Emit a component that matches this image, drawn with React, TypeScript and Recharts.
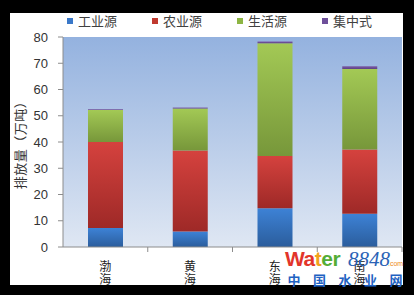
import { BarChart, Bar, XAxis, YAxis, CartesianGrid, Legend, Label } from "recharts"

// emissions by sea area, 万吨
const SEAS = ["渤海", "黄海", "东海", "南海"]
const INDUSTRY = [7.2, 5.9, 14.8, 12.7]
const AGRICULTURE = [32.8, 30.9, 19.9, 24.4]
const DOMESTIC = [12.2, 16.0, 42.9, 30.7]
const CENTRALIZED = [0.3, 0.3, 0.7, 1.1]
const Y_TICKS = [0, 10, 20, 30, 40, 50, 60, 70, 80]

const SERIES = [
  { key: "industry", name: "工业源", top: "#3d82d6", bottom: "#2b5d9c", swatch: "#3a78c8" },
  { key: "agriculture", name: "农业源", top: "#d5423e", bottom: "#9e2927", swatch: "#c0392f" },
  { key: "domestic", name: "生活源", top: "#a3c955", bottom: "#77973a", swatch: "#8db543" },
  { key: "centralized", name: "集中式", top: "#7d5ca8", bottom: "#5d4284", swatch: "#6e4f9a" },
]

const data = SEAS.map((sea, i) => ({
  sea,
  industry: INDUSTRY[i],
  agriculture: AGRICULTURE[i],
  domestic: DOMESTIC[i],
  centralized: CENTRALIZED[i],
}))

const CJK = '"Noto Sans CJK SC", "Noto Sans", sans-serif'
const NUM = '"Liberation Sans", Arial, sans-serif'

// category label written top-to-bottom, with a tick at the right edge of each band
function SeaTick(props: any) {
  const { x, y, payload } = props
  const half = payload.offset || 42.4
  const chars = String(payload.value).split("")
  return (
    <g>
      <line x1={x + half} y1={y} x2={x + half} y2={y + 5} stroke="#8c8c8c" />
      {chars.map((c, i) => (
        <text
          key={i}
          x={x}
          y={y + 18 + i * 13}
          textAnchor="middle"
          dominantBaseline="central"
          fontSize={12}
          fontFamily={CJK}
          fill="#222"
        >
          {c}
        </text>
      ))}
    </g>
  )
}

function LegendRow() {
  return (
    <div style={{ display: "flex", fontFamily: CJK, fontSize: 13, color: "#404040" }}>
      {SERIES.map((s) => (
        <div key={s.key} style={{ width: 85, display: "flex", alignItems: "center" }}>
          <span style={{ width: 6, height: 6, background: s.swatch, marginRight: 5 }} />
          <span>{s.name}</span>
        </div>
      ))}
    </div>
  )
}

function Watermark() {
  const cn = ["中", "国", "水", "业", "网"]
  return (
    <svg width={414} height={295} style={{ position: "absolute", left: 0, top: 0, pointerEvents: "none" }}>
      <text x={285} y={266} fontFamily={NUM} fontWeight="bold" fontSize={21} letterSpacing={-0.5}>
        <tspan fill="#e2352b">Wa</tspan>
        <tspan fill="#f2a21d">t</tspan>
        <tspan fill="#55ad35">er</tspan>
      </text>
      <text x={348} y={266} fontFamily='"Liberation Serif", serif' fontStyle="italic" fontSize={21} fill="#2b63b6">
        8848
      </text>
      <text x={388} y={266} fontFamily={NUM} fontSize={7} fill="#ee8a22">
        .com
      </text>
      {cn.map((c, i) => (
        <text key={c} x={294 + i * 25.5} y={279} textAnchor="middle" dominantBaseline="central"
          fontFamily={CJK} fontWeight="bold" fontSize={13} fill="#1f62c2">
          {c}
        </text>
      ))}
    </svg>
  )
}

export default function App() {
  return (
    <div style={{ position: "fixed", left: 0, top: 0, width: 414, height: 295, background: "#000" }}>
      <div style={{ position: "absolute", left: 10, top: 13, width: 393, height: 272, background: "#fff" }} />
      <div style={{ position: "absolute", left: 0, top: 0 }}>
        <BarChart
          width={414}
          height={295}
          data={data}
          margin={{ top: 37, right: 12, bottom: 0, left: 0 }}
          barSize={35}
        >
          <defs>
            <linearGradient id="plotBg" x1="0" y1="0" x2="0" y2="1">
              <stop offset="0%" stopColor="#94b2df" />
              <stop offset="100%" stopColor="#dfe7f3" />
            </linearGradient>
            {SERIES.map((s) => (
              <linearGradient key={s.key} id={`g-${s.key}`} x1="0" y1="0" x2="0" y2="1">
                <stop offset="0%" stopColor={s.top} />
                <stop offset="100%" stopColor={s.bottom} />
              </linearGradient>
            ))}
          </defs>
          <CartesianGrid horizontal={false} vertical={false} fill="url(#plotBg)" />
          <XAxis
            dataKey="sea"
            height={48}
            axisLine={{ stroke: "#8c8c8c" }}
            tickLine={false}
            tickSize={0}
            tickMargin={0}
            tick={<SeaTick />}
            interval={0}
          />
          <YAxis
            width={63}
            domain={[0, 80]}
            ticks={Y_TICKS}
            axisLine={{ stroke: "#8c8c8c" }}
            tickLine={{ stroke: "#8c8c8c" }}
            tickSize={5}
            tickMargin={10}
            tick={{ fontSize: 13, fontFamily: NUM, fill: "#333" }}
          >
            <Label
              value="排放量（万吨）"
              angle={-90}
              position="insideLeft"
              offset={20}
              style={{ textAnchor: "middle", fontSize: 13, fontFamily: CJK, fill: "#333", letterSpacing: 0.5 }}
            />
          </YAxis>
          <Legend
            verticalAlign="middle"
            layout="vertical"
            align="center"
            wrapperStyle={{ top: 11, left: 67, width: 345, height: 20 }}
            content={() => <LegendRow />}
          />
          {SERIES.map((s) => (
            <Bar
              key={s.key}
              dataKey={s.key}
              name={s.name}
              stackId="src"
              fill={`url(#g-${s.key})`}
              isAnimationActive={false}
            />
          ))}
        </BarChart>
      </div>
      <Watermark />
    </div>
  )
}
